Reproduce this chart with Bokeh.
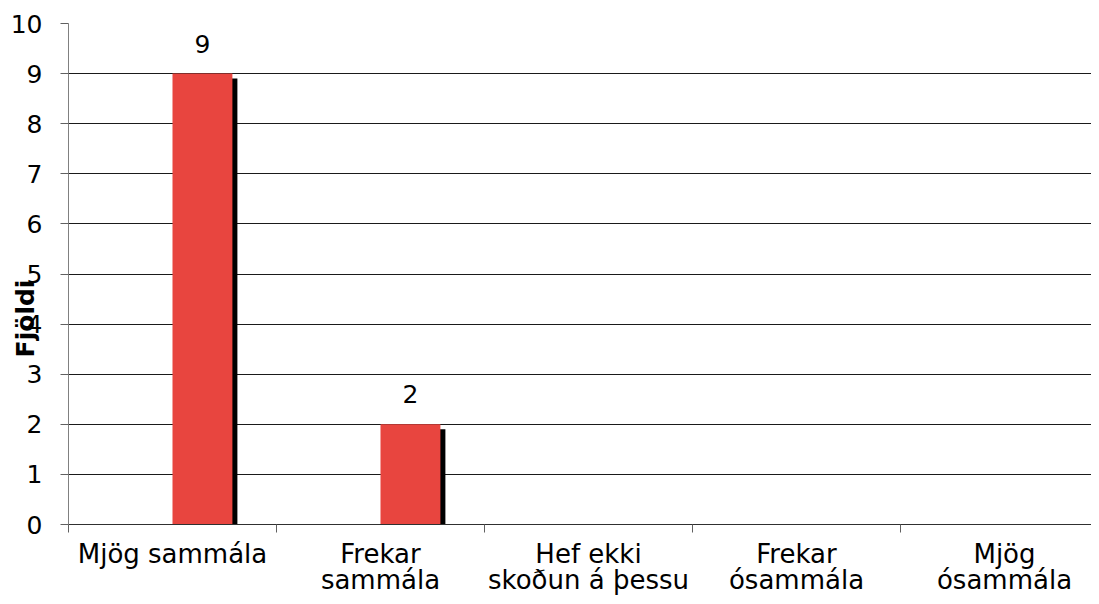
import math
from bokeh.plotting import figure
from bokeh.models import Range1d, FixedTicker, ColumnDataSource
from bokeh.layouts import column, row
from bokeh.core.properties import value
from bokeh.embed import file_html
from bokeh.resources import INLINE

# ---- data ----
categories = ["Mjög sammála", "Frekar sammála", "Hef ekki skoðun á þessu",
              "Frekar ósammála", "Mjög ósammála"]
label_line1 = ["Mjög sammála", "Frekar", "Hef ekki", "Frekar", "Mjög"]
label_line2 = ["", "sammála", "skoðun á þessu", "ósammála", "ósammála"]
counts = [9, 2, 0, 0, 0]
y_ticks = list(range(0, 11))
y_axis_title = "Fjöldi"

FONT = "DejaVu Sans"
FS = "25px"
FS_CAT = "26px"
RED = "#E8453F"

W = 1091
H = 596
LEFT = 68
H1 = 538
H2 = H - H1
xr = Range1d(0, (W - LEFT) / 208)

p = figure(width=W, height=H1, output_backend="svg", toolbar_location=None,
           x_range=xr, y_range=Range1d(0, 10),
           min_border_left=LEFT, min_border_right=0, min_border_top=23,
           min_border_bottom=14)
p.outline_line_color = None
p.border_fill_alpha = 0

# bars (with drop shadow)
n = len(counts)
bar_w = 0.288
xs = [i + 0.5 + bar_w / 2 for i in range(n)]
src = ColumnDataSource(dict(
    x=xs, top=counts,
    sx=[x + 0.024 for x in xs],
    stop=[c - 0.1 if c > 0 else 0 for c in counts],
    label=[str(c) if c > 0 else "" for c in counts],
))
p.vbar(x="sx", top="stop", bottom=-0.1, width=bar_w, source=src,
       fill_color="black", line_color=None)
p.vbar(x="x", top="top", bottom=0, width=bar_w, source=src,
       fill_color=RED, line_color=None)
p.text(x="x", y="top", text="label", source=src, y_offset=-30,
       text_align="center", text_baseline="alphabetic",
       text_font=value(FONT), text_font_size=FS, text_color="black")

# y axis
p.yaxis.ticker = FixedTicker(ticks=y_ticks)
p.yaxis.major_tick_out = 8
p.yaxis.major_tick_in = 0
p.yaxis.minor_tick_line_color = None
p.yaxis.major_label_standoff = 18
p.yaxis.major_label_text_font = FONT
p.yaxis.major_label_text_font_size = FS
p.yaxis.major_label_text_color = "black"
p.yaxis.axis_line_color = "#808080"
p.yaxis.major_tick_line_color = "#606060"
p.ygrid.ticker = FixedTicker(ticks=y_ticks)
p.ygrid.grid_line_color = "#1a1a1a"
p.ygrid.grid_line_width = 1
p.xgrid.grid_line_color = None

# x axis: boundary ticks only
p.xaxis.ticker = FixedTicker(ticks=[], minor_ticks=list(range(0, n + 1)))
p.xaxis.minor_tick_out = 8
p.xaxis.minor_tick_in = 0
p.xaxis.major_tick_out = 0
p.xaxis.minor_tick_line_color = "#606060"
p.xaxis.major_tick_line_color = None
p.xaxis.major_label_standoff = 0
p.xaxis.major_label_text_font_size = "0px"
p.xaxis.axis_line_color = "#303030"

# category labels panel
q = figure(width=W, height=H2, output_backend="svg", toolbar_location=None,
           title_location=None,
           x_range=xr, y_range=Range1d(0, H2),
           min_border_left=LEFT, min_border_right=0, min_border_top=0,
           min_border_bottom=0, x_axis_location=None, y_axis_location=None)
q.outline_line_color = None
q.grid.grid_line_color = None
q.border_fill_alpha = 0
cx = [i + 0.5 for i in range(n)]
q.text(x=cx, y=[H2 - (553 - H1)] * n, text=label_line1, text_align="center",
       text_baseline="alphabetic", text_font=value(FONT),
       text_font_size=FS_CAT, text_color="black")
q.text(x=cx, y=[H2 - (579 - H1)] * n, text=label_line2, text_align="center",
       text_baseline="alphabetic", text_font=value(FONT),
       text_font_size=FS_CAT, text_color="black")

# y-axis title layer (sits under the transparent border of the chart)
TW = 40
f0 = figure(width=TW, height=H, output_backend="svg", toolbar_location=None,
            title_location=None,
            x_range=Range1d(0, TW), y_range=Range1d(0, H),
            min_border=0, x_axis_location=None, y_axis_location=None)
f0.outline_line_color = None
f0.grid.grid_line_color = None
f0.background_fill_alpha = 0
f0.border_fill_alpha = 0
f0.text(x=[25], y=[H - 318], text=[y_axis_title], angle=math.pi / 2,
        text_align="center", text_baseline="middle", text_font=value(FONT),
        text_font_size=FS, text_font_style="bold", text_color="black")
f0.margin = (0, -TW, 0, 0)

layout = row(f0, column(p, q, spacing=0), spacing=0)
open("out.html", "w").write(file_html(layout, INLINE))
